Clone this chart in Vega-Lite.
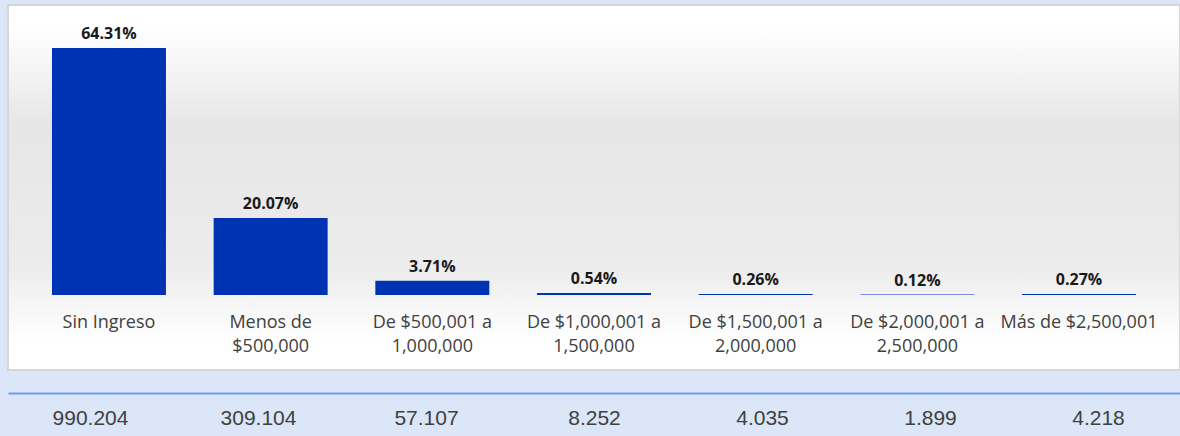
{
  "$schema": "https://vega.github.io/schema/vega-lite/v6.json",
  "width": 1172,
  "height": 365,
  "autosize": {"type": "none"},
  "padding": {"left": 8, "top": 5, "right": 0, "bottom": 66},
  "background": "#dbe6f8",
  "config": {
    "view": {
      "fill": {
        "gradient": "linear", "x1": 0, "y1": 0, "x2": 0, "y2": 1,
        "stops": [
          {"offset": 0, "color": "#ffffff"},
          {"offset": 0.06, "color": "#ffffff"},
          {"offset": 0.33, "color": "#e6e6e6"},
          {"offset": 0.72, "color": "#ececec"},
          {"offset": 0.92, "color": "#ffffff"},
          {"offset": 1, "color": "#ffffff"}
        ]
      },
      "stroke": "#d6d6d6",
      "strokeWidth": 2
    }
  },
  "data": {
    "values": [
      {"cat": "Sin Ingreso", "pct": 0.6431, "n": "990.204", "order": 1},
      {"cat": "Menos de|$500,000", "pct": 0.2007, "n": "309.104", "order": 2},
      {"cat": "De $500,001 a|1,000,000", "pct": 0.0371, "n": "57.107", "order": 3},
      {"cat": "De $1,000,001 a|1,500,000", "pct": 0.0054, "n": "8.252", "order": 4},
      {"cat": "De $1,500,001 a|2,000,000", "pct": 0.0026, "n": "4.035", "order": 5},
      {"cat": "De $2,000,001 a|2,500,000", "pct": 0.0012, "n": "1.899", "order": 6},
      {"cat": "Más de $2,500,001", "pct": 0.0027, "n": "4.218", "order": 7}
    ]
  },
  "layer": [
    {
      "encoding": {
        "x": {
          "field": "cat", "type": "nominal", "sort": {"field": "order"},
          "scale": {"paddingInner": 0.295, "paddingOuter": 0.272},
          "axis": {
            "title": null, "orient": "bottom", "offset": -57,
            "domain": false, "ticks": false, "tickSize": 0, "grid": false,
            "labelPadding": 0, "labelAngle": 0, "labelBaseline": "top",
            "labelFont": "Open Sans", "labelFontSize": 18, "labelColor": "#404040",
            "labelExpr": "split(datum.label, '|')", "labelLineHeight": 24,
            "labelLimit": 0, "labelOverlap": false
          }
        },
        "y": {
          "field": "pct", "type": "quantitative",
          "scale": {"domain": [-0.1953, 0.7551], "nice": false, "zero": false},
          "axis": null
        }
      },
      "layer": [
        {
          "mark": {"type": "bar", "color": "#0033b4"},
          "encoding": {"y2": {"datum": 0}}
        },
        {
          "mark": {"type": "text", "font": "Open Sans", "fontSize": 16, "fontWeight": "bold", "color": "#1a1a1a", "baseline": "alphabetic", "dy": -9},
          "encoding": {"text": {"field": "pct", "type": "quantitative", "format": ".2%"}}
        }
      ]
    },
    {
      "mark": {"type": "point", "opacity": 0},
      "encoding": {
        "x": {
          "field": "n", "type": "nominal", "sort": {"field": "order"},
          "scale": {"type": "point", "padding": 0.488},
          "axis": {
            "title": null, "orient": "bottom", "offset": 23,
            "domainColor": "#6d9eeb", "domainWidth": 2,
            "ticks": false, "tickSize": 0, "grid": false,
            "labelPadding": 14, "labelAngle": 0, "labelBaseline": "top",
            "labelFont": "Liberation Sans", "labelFontSize": 21, "labelColor": "#404040",
            "labelLimit": 0, "labelOverlap": false
          }
        },
        "y": {"datum": 0, "type": "quantitative"}
      }
    }
  ],
  "resolve": {"scale": {"x": "independent"}, "axis": {"x": "independent"}}
}
